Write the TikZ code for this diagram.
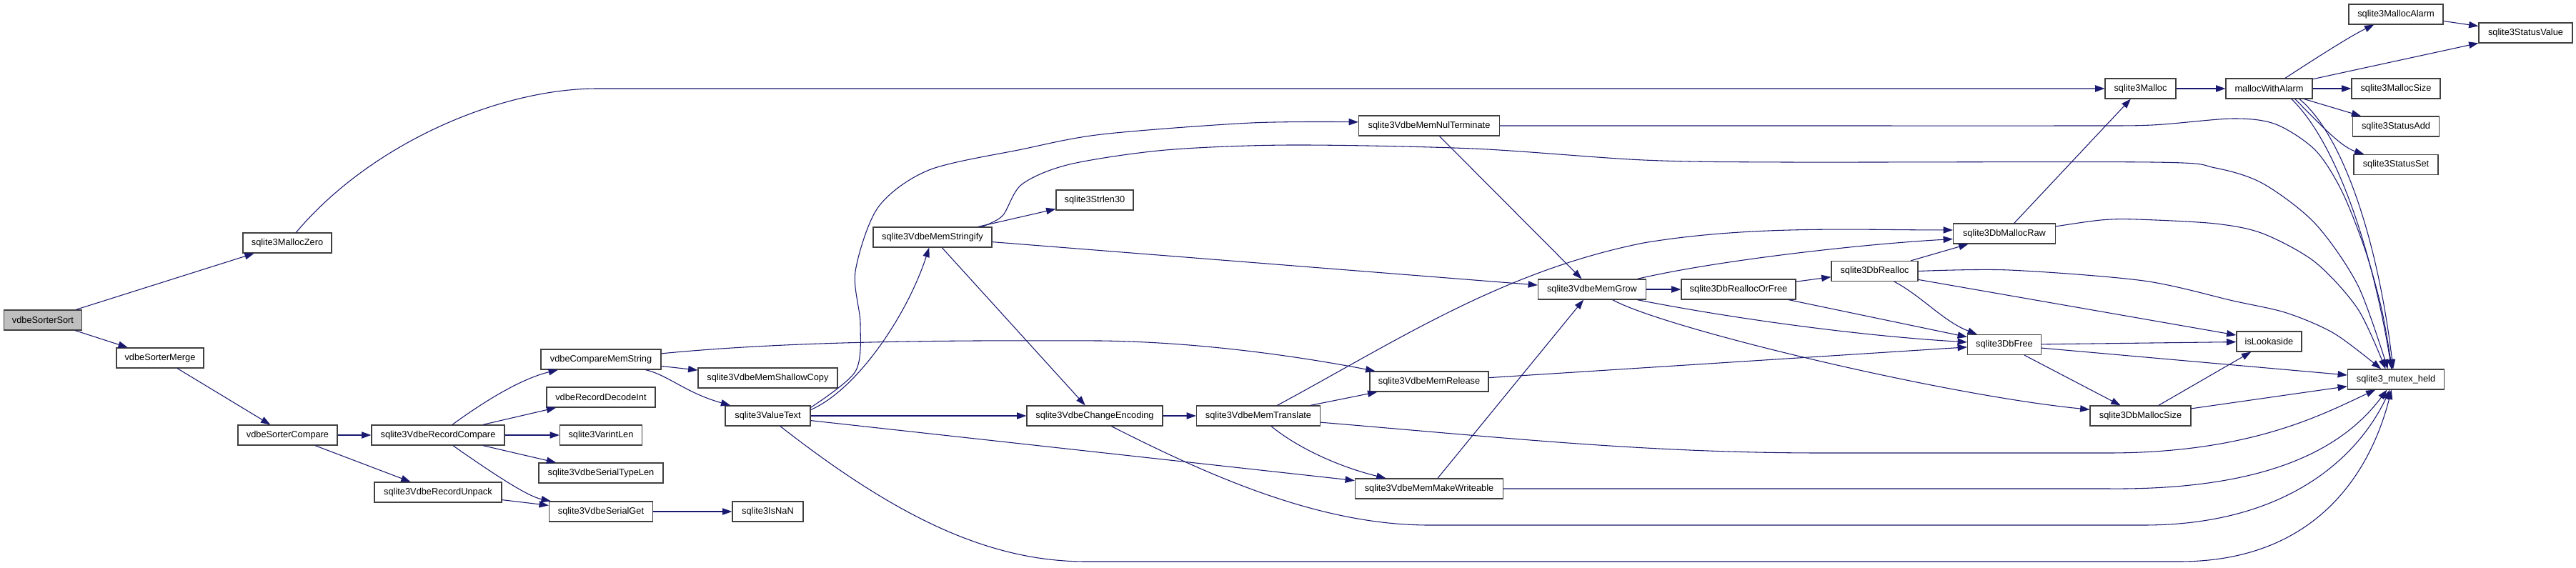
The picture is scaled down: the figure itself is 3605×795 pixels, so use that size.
\documentclass[tikz,border=0pt]{standalone}
\usepackage{fontspec}
\setmainfont{Liberation Sans}
\usepackage{tikz}
\usetikzlibrary{arrows.meta}
\definecolor{callblue}{HTML}{191970}
\definecolor{rootgray}{HTML}{BFBFBF}

\begin{document}
\begin{tikzpicture}[
    x=0.75pt, y=-0.75pt,
    fn/.style={rectangle, draw=black!75, line width=0.9pt, fill=white, minimum width=#1*0.75pt, minimum height=21pt, inner sep=0pt, font=\fontsize{9.6}{11}\selectfont},
    call/.style={draw=callblue, line width=0.8pt, -{Triangle[length=10pt, width=7pt]}}
]
    \path[fill=white] (0,0) rectangle (3605,795);

    % sorter side
    \node[fn=109, fill=rootgray] (sort) at (60,448) {vdbeSorterSort};
    \node[fn=124] (mzero) at (402,340) {sqlite3MallocZero};
    \node[fn=122] (merge) at (224,501) {vdbeSorterMerge};
    \node[fn=139] (scmp) at (402.5,609) {vdbeSorterCompare};
    \node[fn=186] (rcmp) at (613,609) {sqlite3VdbeRecordCompare};
    \node[fn=178] (runp) at (613,689) {sqlite3VdbeRecordUnpack};

    % record helpers
    \node[fn=168] (cms) at (841,503) {vdbeCompareMemString};
    \node[fn=152] (rdi) at (841,556) {vdbeRecordDecodeInt};
    \node[fn=115] (vlen) at (841,609) {sqlite3VarintLen};
    \node[fn=174] (stl) at (841,662) {sqlite3VdbeSerialTypeLen};
    \node[fn=145] (sget) at (841,716) {sqlite3VdbeSerialGet};
    \node[fn=195] (shc) at (1074.5,529) {sqlite3VdbeMemShallowCopy};
    \node[fn=119] (vtext) at (1074.5,582) {sqlite3ValueText};
    \node[fn=99] (isnan) at (1074.5,716) {sqlite3IsNaN};

    % mem functions
    \node[fn=166] (strfy) at (1305,332) {sqlite3VdbeMemStringify};
    \node[fn=108] (strlen) at (1532,280) {sqlite3Strlen30};
    \node[fn=190] (chenc) at (1532,582) {sqlite3VdbeChangeEncoding};
    \node[fn=173] (mtrans) at (1761,582) {sqlite3VdbeMemTranslate};
    \node[fn=197] (nult) at (2000,176) {sqlite3VdbeMemNulTerminate};
    \node[fn=166] (mrel) at (2000,534) {sqlite3VdbeMemRelease};
    \node[fn=207] (mwrite) at (2000,684) {sqlite3VdbeMemMakeWriteable};
    \node[fn=151] (mgrow) at (2228,405) {sqlite3VdbeMemGrow};

    % allocator
    \node[fn=160] (rof) at (2433,405) {sqlite3DbReallocOrFree};
    \node[fn=121] (dbre) at (2623.5,379.5) {sqlite3DbRealloc};
    \node[fn=143] (dbraw) at (2805,327) {sqlite3DbMallocRaw};
    \node[fn=103] (dbfree) at (2805,482.5) {sqlite3DbFree};
    \node[fn=99] (malloc) at (2995.5,124) {sqlite3Malloc};
    \node[fn=141] (dbsize) at (2995.5,582) {sqlite3DbMallocSize};
    \node[fn=121] (mwa) at (3175.5,124) {mallocWithAlarm};
    \node[fn=91] (lookaside) at (3175.5,478) {isLookaside};
    \node[fn=132] (malarm) at (3353,20) {sqlite3MallocAlarm};
    \node[fn=124] (msize) at (3353,124) {sqlite3MallocSize};
    \node[fn=121] (sadd) at (3353,177) {sqlite3StatusAdd};
    \node[fn=118] (sset) at (3353,230.5) {sqlite3StatusSet};
    \node[fn=135] (mutex) at (3353,531) {sqlite3\_mutex\_held};
    \node[fn=131] (sval) at (3534.5,46) {sqlite3StatusValue};

    % calls from the sorter
    \draw[call] (sort) -- (mzero);
    \draw[call] (sort) -- (merge);
    \draw[call] (mzero) .. controls (520,200) and (700,124) .. (836,124) -- (malloc);
    \draw[call] (merge) -- (scmp);
    \draw[call] (scmp) -- (rcmp);
    \draw[call] (scmp) -- (runp);
    \draw[call] (rcmp) .. controls (680,560) and (730,530) .. (cms);
    \draw[call] (rcmp) -- (rdi);
    \draw[call] (rcmp) -- (vlen);
    \draw[call] (rcmp) -- (stl);
    \draw[call] (rcmp) .. controls (700,670) and (740,695) .. (sget);
    \draw[call] (runp) -- (sget);
    \draw[call] (sget) -- (isnan);

    % string compare and value text
    \draw[call] (cms) -- (shc);
    \draw[call] (cms) .. controls (935,525) and (960,550) .. (vtext);
    \draw[call] (cms) .. controls (1100,478) and (1300,476) .. (1540,477) .. controls (1700,479) and (1850,505) .. (mrel);
    \draw[call] (vtext.8) .. controls (1200,545) and (1270,440) .. (strfy);
    \draw[call] (vtext) -- (chenc);
    \draw[call] plot[smooth] coordinates {(vtext.11) (1197,520) (1204,453) (1197,380) (1229,290) (1300,238) (1430,209) (1542,188) (1751,172) (nult.177)};
    \draw[call] (vtext) -- (mwrite);
    \draw[call] (vtext.-40) .. controls (1250,720) and (1380,786) .. (1520,786) -- (3050,786) .. controls (3250,786) and (3320,650) .. (mutex.-113);

    % mem layer
    \draw[call] (strfy) -- (strlen);
    \draw[call] (strfy) -- (mgrow);
    \draw[call] (strfy) -- (chenc);
    \draw[call] plot[smooth] coordinates {(strfy.12) (1403,302) (1430,258) (1497,230) (1631,210) (1806,203) (2061,208) (2300,224) (2500,227) (3012,227) (3100,235) (3167,257) (3240,313) (3300,400) (mutex.128)};
    \draw[call] (chenc) -- (mtrans);
    \draw[call] (chenc.-32) .. controls (1700,670) and (1850,735) .. (2000,735) -- (3000,735) .. controls (3200,735) and (3300,640) .. (mutex.-120);
    \draw[call] (mtrans) -- (mrel);
    \draw[call] (mtrans) .. controls (1820,630) and (1880,655) .. (mwrite);
    \draw[call] (mtrans.29) .. controls (1950,480) and (2100,380) .. (2300,340) .. controls (2450,315) and (2600,322) .. (dbraw.176);
    \draw[call] (mtrans.-6) .. controls (2100,612) and (2300,634) .. (2550,634) -- (2950,634) .. controls (3150,634) and (3250,580) .. (mutex.-153);
    \draw[call] (nult) -- (mgrow);
    \draw[call] plot[smooth] coordinates {(nult.east) (2500,176) (2900,176) (3012,175) (3125,166) (3185,174) (3240,210) (3277,267) (3310,350) (3333,433) (mutex.110)};
    \draw[call] (mrel) -- (dbfree);
    \draw[call] (mwrite) -- (mgrow);
    \draw[call] (mwrite) -- (2950,684) .. controls (3150,686) and (3270,640) .. (mutex.-131);

    % allocator calls
    \draw[call] (mgrow) -- (rof);
    \draw[call] (mgrow.13) .. controls (2400,365) and (2600,342) .. (dbraw.186);
    \draw[call] (mgrow.-13) .. controls (2420,445) and (2600,470) .. (dbfree.176);
    \draw[call] (mgrow.-27) .. controls (2330,460) and (2720,553) .. (dbsize.173);
    \draw[call] (rof) -- (dbre);
    \draw[call] (rof) -- (dbfree);
    \draw[call] (dbre) -- (dbraw);
    \draw[call] (dbre) .. controls (2690,415) and (2720,450) .. (dbfree);
    \draw[call] (dbre.-11) -- (lookaside.169);
    \draw[call] plot[smooth] coordinates {(dbre.east) (2812,378) (3000,393) (3125,421) (3200,438) (3267,467) (mutex.145)};
    \draw[call] (dbraw) -- (malloc);
    \draw[call] plot[smooth] coordinates {(dbraw.8) (2940,308) (2990,307) (3100,313) (3167,327) (3240,367) (3300,433) (mutex.135)};
    \draw[call] (dbfree) -- (lookaside);
    \draw[call] (dbfree) -- (mutex);
    \draw[call] (dbfree) -- (dbsize);
    \draw[call] (dbsize) -- (lookaside);
    \draw[call] (dbsize) -- (mutex);

    % malloc chain
    \draw[call] (malloc) -- (mwa);
    \draw[call] (mwa) .. controls (3240,82) and (3290,50) .. (malarm);
    \draw[call] (mwa) -- (sval);
    \draw[call] (malarm) -- (sval);
    \draw[call] (mwa) -- (msize);
    \draw[call] (mwa) -- (sadd);
    \draw[call] (mwa.-22) .. controls (3245,172) and (3275,205) .. (sset);
    \draw[call] (mwa.-25) .. controls (3270,200) and (3320,350) .. (mutex.113);
    \draw[call] (mwa.-19) .. controls (3280,190) and (3328,340) .. (mutex.105);
\end{tikzpicture}
\end{document}
